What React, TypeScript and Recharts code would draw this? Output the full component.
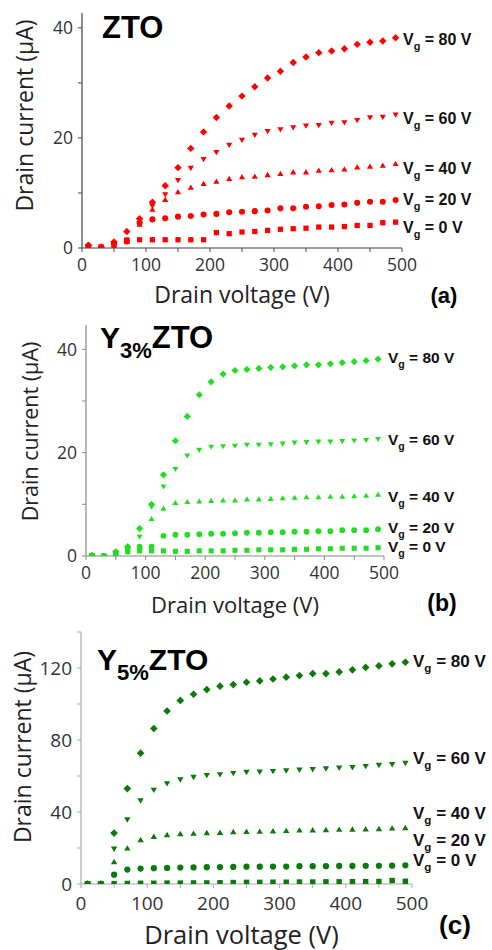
import React from 'react';
import { ScatterChart, Scatter, XAxis, YAxis, ReferenceDot, Label } from 'recharts';

// ---------------- data ----------------
const VOLTAGES = [10, 30, 50, 70, 90, 110, 130, 150, 170, 190, 210, 230, 250, 270, 290, 310, 330, 350, 370, 390, 410, 430, 450, 470, 490];
const GATES = ['80', '60', '40', '20', '0'];
const X_TICKS = [0, 50, 100, 150, 200, 250, 300, 350, 400, 450, 500];

// (a) ZTO
const A_VG80 = [0.5, 0.2, 1.1, 3.0, 5.3, 8.3, 11.3, 14.6, 18.1, 21.1, 23.7, 25.8, 27.6, 29.3, 30.9, 32.1, 33.7, 34.7, 35.5, 35.8, 36.2, 37.0, 37.4, 37.6, 38.2];
const A_VG60 = [0.3, 0.2, 0.8, 1.5, 4.5, 7.6, 9.7, 12.3, 14.5, 16.1, 17.4, 18.7, 19.6, 20.5, 21.2, 21.5, 21.9, 22.2, 22.3, 22.7, 22.8, 23.2, 23.7, 23.8, 24.2];
const A_VG40 = [0.3, 0.2, 0.6, 1.2, 4.3, 7.0, 8.8, 10.2, 11.0, 11.7, 12.1, 12.6, 12.9, 13.0, 13.3, 13.5, 13.8, 13.8, 14.1, 14.2, 14.3, 14.7, 14.8, 15.0, 15.3];
const A_VG20 = [0.3, 0.1, 0.8, 1.2, 4.6, 5.2, 5.4, 5.7, 5.8, 6.1, 6.2, 6.5, 6.6, 6.7, 6.8, 7.2, 7.2, 7.5, 7.6, 7.8, 7.9, 8.2, 8.4, 8.4, 8.7];
const A_VG0 = [0.3, 0.1, 0.5, 1.4, 1.5, 1.5, 1.5, 1.5, 1.5, 1.5, 2.8, 2.6, 2.9, 3.0, 3.2, 3.4, 3.5, 3.6, 3.8, 3.8, 3.9, 4.1, 4.1, 4.6, 4.7];
const A_LABEL_Y = [38.0, 23.6, 14.5, 8.9, 3.8];
const A_Y_TICKS = [0, 10, 20, 30, 40];

// (b) Y3%ZTO
const B_VG80 = [0.1, 0, 0.8, 1.8, 5.3, 10.0, 15.7, 22.3, 27.0, 31.2, 33.7, 35.2, 35.9, 36.1, 36.3, 36.5, 36.6, 36.8, 37.0, 37.0, 37.2, 37.4, 37.6, 37.8, 38.1];
const B_VG60 = [0.1, 0, 0.6, 1.5, 3.7, 9.5, 13.4, 16.8, 19.4, 20.5, 21.1, 21.2, 21.3, 21.5, 21.5, 21.6, 21.7, 21.9, 22.0, 22.1, 22.1, 22.2, 22.3, 22.4, 22.6];
const B_VG40 = [0.1, 0, 0.5, 1.2, 1.8, 7.2, 9.2, 10.3, 10.5, 10.6, 10.7, 10.8, 10.8, 11.0, 11.0, 11.1, 11.2, 11.3, 11.4, 11.4, 11.5, 11.5, 11.6, 11.7, 11.9];
const B_VG20 = [0.1, 0, 0.7, 1.5, 1.8, 1.8, 3.9, 4.1, 4.1, 4.2, 4.3, 4.3, 4.4, 4.5, 4.5, 4.6, 4.6, 4.7, 4.7, 4.8, 4.8, 5.0, 5.0, 5.0, 5.2];
const B_VG0 = [0.1, 0, 0.4, 0.8, 1.0, 1.0, 1.0, 0.9, 0.9, 1.0, 1.0, 1.0, 1.1, 1.1, 1.2, 1.2, 1.2, 1.3, 1.3, 1.4, 1.4, 1.5, 1.5, 1.5, 1.6];
const B_LABEL_Y = [38.5, 22.6, 11.6, 5.5, 1.8];
const B_Y_TICKS = [0, 10, 20, 30, 40];

// (c) Y5%ZTO
const C_VG80 = [0, 0, 28.3, 53.0, 72.7, 86.4, 96.1, 102, 105.4, 108, 109.9, 110.8, 112.1, 112.8, 113.9, 114.9, 115.8, 116.9, 116.9, 117.8, 119, 120.3, 121.2, 122.3, 123.2];
const C_VG60 = [0, 0, 19.5, 35.7, 46.3, 52.2, 55.8, 58, 59.3, 60.4, 60.8, 61.5, 62.1, 62.3, 62.6, 63.0, 63.4, 63.7, 64.1, 64.5, 64.8, 65.4, 66.0, 66.4, 67.1];
const C_VG40 = [0, 0, 12.3, 19.9, 24.5, 26.4, 27.3, 27.9, 28.1, 28.4, 28.6, 29.0, 29.1, 29.2, 29.4, 29.6, 29.9, 30.0, 30.1, 30.3, 30.4, 30.5, 30.7, 31.0, 31.2];
const C_VG20 = [0, 0, 5.2, 8.0, 8.6, 8.8, 8.9, 9.1, 9.2, 9.3, 9.4, 9.5, 9.6, 9.6, 9.7, 9.7, 9.9, 9.9, 9.9, 10.0, 10.0, 10.1, 10.1, 10.2, 10.4];
const C_VG0 = [0, 0, 0.2, 0.3, 0.4, 0.4, 0.5, 0.5, 0.6, 0.6, 0.7, 0.8, 0.9, 0.9, 1.0, 1.0, 1.1, 1.1, 1.2, 1.2, 1.3, 1.3, 1.4, 1.9, 1.5];
const C_LABEL_Y = [124, 70.2, 39.6, 24.7, 13.5];
const C_Y_TICKS = [0, 20, 40, 60, 80, 100, 120, 140];

// ---------------- drawing helpers ----------------
type Kind = 'diamond' | 'down' | 'up' | 'circle' | 'square';
const KINDS: Kind[] = ['diamond', 'down', 'up', 'circle', 'square'];

function Marker(props: any) {
  const { cx, cy, fill, kind, s } = props;
  if (cx == null || cy == null || isNaN(cx) || isNaN(cy)) return null;
  if (kind === 'diamond') {
    const r = s * 1.2;
    return <polygon points={`${cx},${cy - r} ${cx + r},${cy} ${cx},${cy + r} ${cx - r},${cy}`} fill={fill} />;
  }
  if (kind === 'down') {
    const r = s;
    return <polygon points={`${cx - r},${cy - r * 0.75} ${cx + r},${cy - r * 0.75} ${cx},${cy + r * 0.95}`} fill={fill} />;
  }
  if (kind === 'up') {
    const r = s;
    return <polygon points={`${cx - r},${cy + r * 0.75} ${cx + r},${cy + r * 0.75} ${cx},${cy - r * 0.95}`} fill={fill} />;
  }
  if (kind === 'circle') return <circle cx={cx} cy={cy} r={s * 0.98} fill={fill} />;
  const h = s * 0.85;
  return <rect x={cx - h} y={cy - h} width={h * 2} height={h * 2} fill={fill} />;
}

const SANS = "'Open Sans', 'DejaVu Sans', sans-serif";
const BOLD = "'Liberation Sans', Arial, sans-serif";

interface PanelCfg {
  top: number;
  height: number;
  margin: { top: number; right: number; bottom: number; left: number };
  xAxisHeight: number;
  yMax: number;
  yTicks: number[];
  yLabelStep: number;
  color: string;
  axisColor: string;
  series: number[][];
  labelY: number[];
  tickFont: number;
  xTickOffset: number;
  xTitleFont: number;
  xTitleDx: number;
  xTitleDy: number;
  yTitleFont: number;
  yTitleDx: number;
  yTitleDy: number;
  vgFont: number;
  vgDx: number;
  markerSize: number;
}

const PANELS: PanelCfg[] = [
  {
    top: 0, height: 320, margin: { top: 13, right: 90, bottom: 0, left: 42 }, xAxisHeight: 72,
    yMax: 42.7, yTicks: A_Y_TICKS, yLabelStep: 20, color: '#ff0000', axisColor: '#444',
    series: [A_VG80, A_VG60, A_VG40, A_VG20, A_VG0], labelY: A_LABEL_Y,
    tickFont: 17.5, xTickOffset: 17, xTitleFont: 23, xTitleDx: 0, xTitleDy: 47,
    yTitleFont: 23, yTitleDx: 57, yTitleDy: -15, vgFont: 16, vgDx: 1, markerSize: 3.1,
  },
  {
    top: 320, height: 300, margin: { top: 5, right: 108, bottom: 0, left: 46 }, xAxisHeight: 64,
    yMax: 44.7, yTicks: B_Y_TICKS, yLabelStep: 20, color: '#22dd22', axisColor: '#888',
    series: [B_VG80, B_VG60, B_VG40, B_VG20, B_VG0], labelY: B_LABEL_Y,
    tickFont: 17.5, xTickOffset: 17, xTitleFont: 22, xTitleDx: 0, xTitleDy: 49,
    yTitleFont: 21.5, yTitleDx: 56, yTitleDy: -9, vgFont: 15.5, vgDx: 4, markerSize: 3,
  },
  {
    top: 620, height: 330, margin: { top: 12, right: 80, bottom: 0, left: 41 }, xAxisHeight: 66,
    yMax: 140, yTicks: C_Y_TICKS, yLabelStep: 40, color: '#0b7a0b', axisColor: '#aaa',
    series: [C_VG80, C_VG60, C_VG40, C_VG20, C_VG0], labelY: C_LABEL_Y,
    tickFont: 19, xTickOffset: 19, xTitleFont: 25.5, xTitleDx: -5, xTitleDy: 51,
    yTitleFont: 23, yTitleDx: 58, yTitleDy: -11, vgFont: 17, vgDx: 1, markerSize: 3.2,
  },
];

function Panel({ cfg }: { cfg: PanelCfg }) {
  const xTick = (p: any) => {
    const v = p.payload?.value;
    if (v % 100 !== 0) return <g />;
    return (
      <text x={p.x} y={p.y - 4 + cfg.xTickOffset + cfg.tickFont * 0.357} textAnchor="middle"
        fontFamily={SANS} fontSize={cfg.tickFont} fill="#333">{v}</text>
    );
  };
  const yTick = (p: any) => {
    const v = p.payload?.value;
    if (v % cfg.yLabelStep !== 0) return <g />;
    return (
      <text x={p.x} y={p.y + cfg.tickFont * 0.357} textAnchor="end"
        fontFamily={SANS} fontSize={cfg.tickFont} fill="#333">{v}</text>
    );
  };
  const xTitle = (p: any) => {
    const vb = p.viewBox || {};
    return (
      <text x={vb.x + vb.width / 2 + cfg.xTitleDx} y={vb.y + cfg.xTitleDy + cfg.xTitleFont * 0.357}
        textAnchor="middle" fontFamily={SANS} fontSize={cfg.xTitleFont} fill="#222">Drain voltage (V)</text>
    );
  };
  const yTitle = (p: any) => {
    const vb = p.viewBox || {};
    const cx = vb.x + vb.width - cfg.yTitleDx;
    const cy = vb.y + vb.height / 2 + cfg.yTitleDy;
    return (
      <text x={cx} y={cy} transform={`rotate(-90, ${cx}, ${cy})`} dy={cfg.yTitleFont * 0.357}
        textAnchor="middle" fontFamily={SANS} fontSize={cfg.yTitleFont} fill="#222">Drain current (μA)</text>
    );
  };
  const vgLabel = (gate: string) => (p: any) => {
    const vb = p.viewBox || {};
    const x = (vb.x ?? 0) + (vb.width ?? 0) / 2 + cfg.vgDx;
    const y = (vb.y ?? 0) + (vb.height ?? 0) / 2 + cfg.vgFont * 0.36;
    const f = cfg.vgFont;
    return (
      <text x={x} y={y} fontFamily={BOLD} fontWeight="bold" fontSize={f} fill="#111" style={{ whiteSpace: 'pre' }}>
        V<tspan fontSize={f * 0.68} dy={f * 0.32}>g</tspan><tspan dy={-f * 0.32}>{` = ${gate} V`}</tspan>
      </text>
    );
  };

  return (
    <div style={{ position: 'absolute', left: 0, top: cfg.top, width: 492, height: cfg.height }}>
      <ScatterChart width={492} height={cfg.height} margin={cfg.margin}>
        <XAxis type="number" dataKey="x" domain={[0, 500]} ticks={X_TICKS} interval={0}
          height={cfg.xAxisHeight} tick={xTick} tickSize={4} tickMargin={0}
          axisLine={{ stroke: cfg.axisColor, strokeWidth: 1.2 }} tickLine={{ stroke: cfg.axisColor }}>
          <Label content={xTitle} />
        </XAxis>
        <YAxis type="number" dataKey="y" domain={[0, cfg.yMax]} ticks={cfg.yTicks} interval={0}
          allowDataOverflow width={40} tick={yTick} tickSize={4} tickMargin={5}
          axisLine={{ stroke: cfg.axisColor, strokeWidth: 1.2 }} tickLine={{ stroke: cfg.axisColor }}>
          <Label content={yTitle} />
        </YAxis>
        {cfg.series.map((vals, si) => (
          <Scatter key={si} name={`Vg = ${GATES[si]} V`} isAnimationActive={false} fill={cfg.color}
            data={VOLTAGES.map((v, i) => ({ x: v, y: vals[i] }))}
            shape={(p: any) => <Marker {...p} fill={cfg.color} kind={KINDS[si]} s={cfg.markerSize} />} />
        ))}
        {cfg.labelY.map((ly, si) => (
          <ReferenceDot key={`l${si}`} x={500} y={ly} r={0} fill="none" stroke="none" ifOverflow="visible"
            label={vgLabel(GATES[si])} />
        ))}
      </ScatterChart>
    </div>
  );
}

export default function App() {
  return (
    <div style={{ position: 'absolute', left: 0, top: 0, width: 492, height: 950, background: '#fff', overflow: 'hidden' }}>
      {PANELS.map((cfg, i) => <Panel key={i} cfg={cfg} />)}
      <svg width={492} height={950} style={{ position: 'absolute', left: 0, top: 0, pointerEvents: 'none' }}>
        <g fontFamily={BOLD} fontWeight="bold" fill="#000">
          <text x={102} y={38} fontSize={31}>ZTO</text>
          <text x={100} y={348} fontSize={30}>Y<tspan fontSize={22} dy={10}>3%</tspan><tspan dy={-10} fontSize={31}>ZTO</tspan></text>
          <text x={97} y={670} fontSize={30}>Y<tspan fontSize={22} dy={10}>5%</tspan><tspan dy={-10} fontSize={30}>ZTO</tspan></text>
          <text x={444} y={295} dy={7.5} fontSize={22} textAnchor="middle">(a)</text>
          <text x={442} y={603} dy={8} fontSize={23} textAnchor="middle">(b)</text>
          <text x={455} y={925} dy={9} fontSize={26} textAnchor="middle">(c)</text>
        </g>
      </svg>
    </div>
  );
}
